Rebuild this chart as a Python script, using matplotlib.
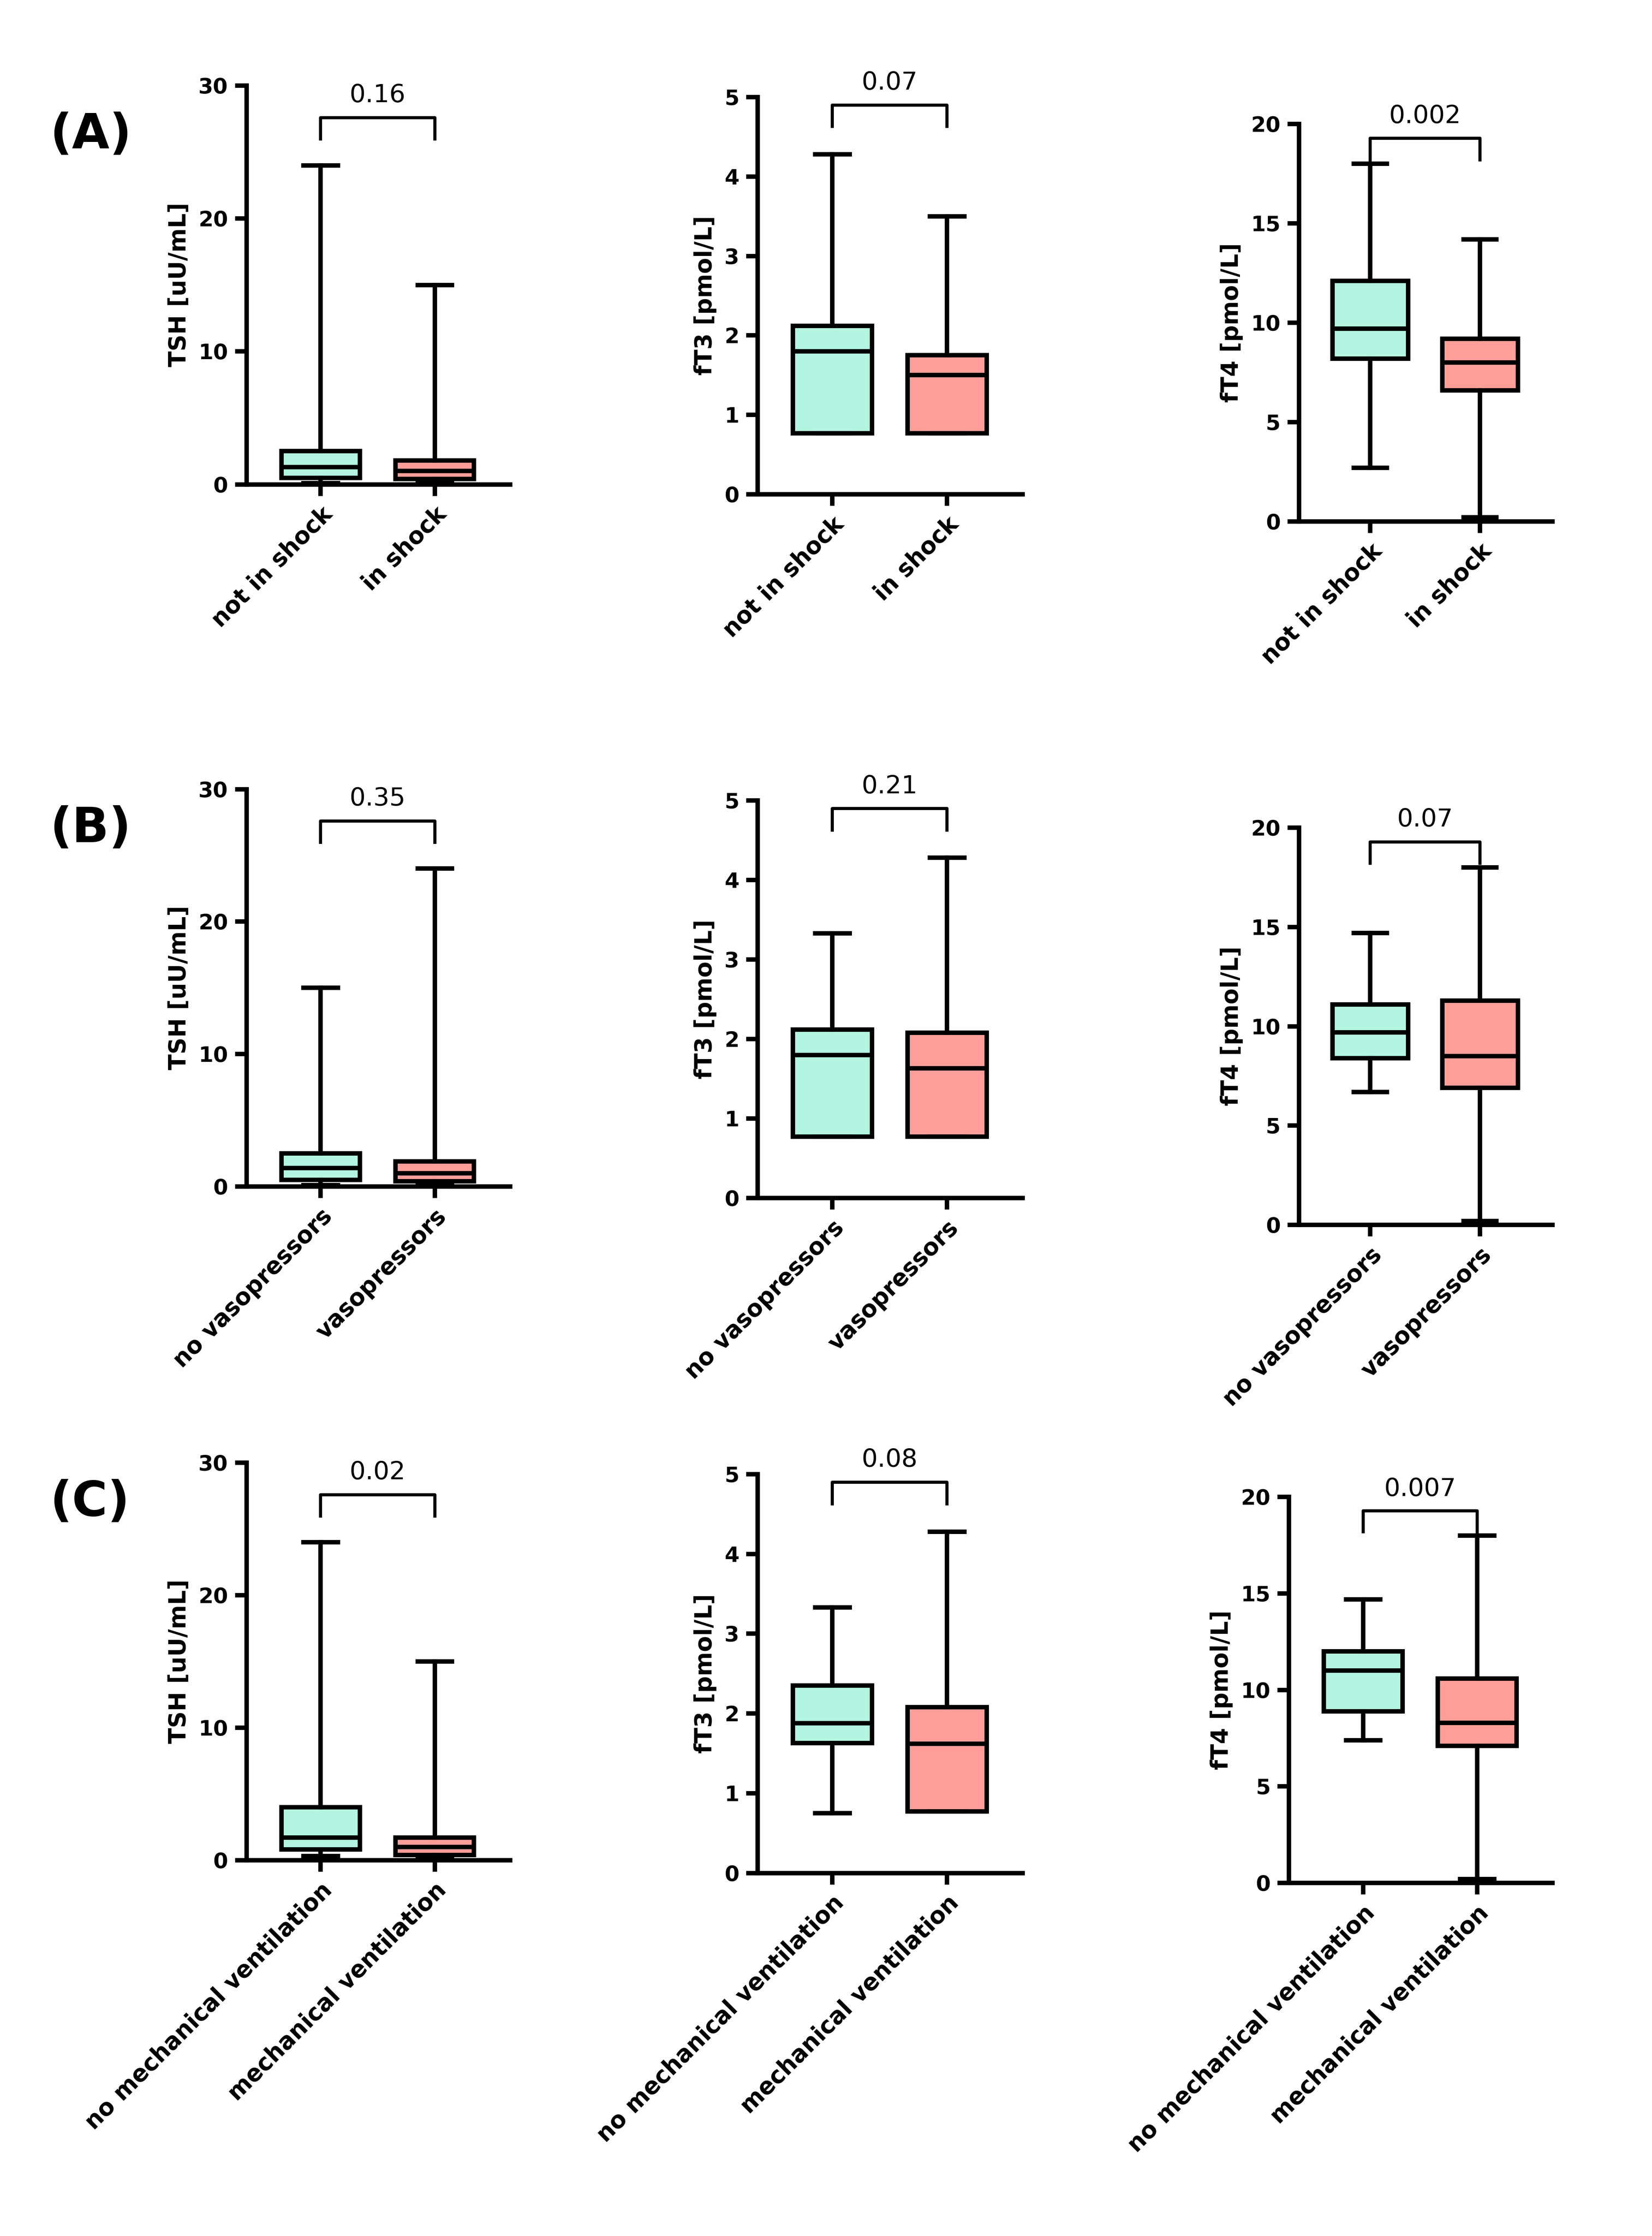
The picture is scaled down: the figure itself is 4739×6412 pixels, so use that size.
import matplotlib.pyplot as plt

W, H = 1160, 1570  # reference layout units

groups_a = ["not in shock", "in shock"]
groups_b = ["no vasopressors", "vasopressors"]
groups_c = ["no mechanical ventilation", "mechanical ventilation"]

# (whislo, q1, med, q3, whishi) for each group
tsh_a = [(0.1, 0.5, 1.3, 2.5, 24), (0.1, 0.4, 1.0, 1.8, 15)]
ft3_a = [(0.77, 0.77, 1.8, 2.12, 4.28), (0.77, 0.77, 1.5, 1.75, 3.5)]
ft4_a = [(2.7, 8.2, 9.7, 12.1, 18), (0.2, 6.6, 8.0, 9.2, 14.2)]
tsh_b = [(0.1, 0.5, 1.4, 2.5, 15), (0.1, 0.4, 1.0, 1.9, 24)]
ft3_b = [(0.77, 0.77, 1.8, 2.12, 3.33), (0.77, 0.77, 1.63, 2.08, 4.28)]
ft4_b = [(6.7, 8.4, 9.7, 11.1, 14.7), (0.2, 6.9, 8.5, 11.3, 18)]
tsh_c = [(0.3, 0.8, 1.7, 4.0, 24), (0.1, 0.4, 1.0, 1.7, 15)]
ft3_c = [(0.75, 1.63, 1.88, 2.35, 3.33), (0.77, 0.77, 1.62, 2.08, 4.28)]
ft4_c = [(7.4, 8.9, 11.0, 12.0, 14.7), (0.2, 7.1, 8.3, 10.6, 18)]

pvals = [["0.16", "0.07", "0.002"], ["0.35", "0.21", "0.07"], ["0.02", "0.08", "0.007"]]
colors = ["#B3F5E0", "#FF9E99"]

hormones = [
    ("TSH [uU/mL]", 30, [0, 10, 20, 30]),
    ("fT3 [pmol/L]", 5, [0, 1, 2, 3, 4, 5]),
    ("fT4 [pmol/L]", 20, [0, 5, 10, 15, 20]),
]
rows = [
    ("(A)", groups_a, [tsh_a, ft3_a, ft4_a]),
    ("(B)", groups_b, [tsh_b, ft3_b, ft4_b]),
    ("(C)", groups_c, [tsh_c, ft3_c, ft4_c]),
]
# axes boxes in reference pixels: (left, right, top, bottom)
boxes = [
    [(173, 358, 60, 340), (532, 718, 68, 347), (912, 1090, 87, 366)],
    [(173, 358, 554, 833), (532, 718, 562, 841), (912, 1090, 581, 860)],
    [(173, 358, 1027, 1306), (532, 718, 1035, 1315), (905, 1090, 1051, 1322)],
]
bracket_y = [0.92, 0.98, 0.964]
letter_y = [95, 582, 1055]

LW = 2.3
fig = plt.figure(figsize=(4739 / 400, 6412 / 400), dpi=400)

for r, (letter, groups, data) in enumerate(rows):
    fig.text(35 / W, 1 - letter_y[r] / H, letter, fontsize=25, fontweight="bold",
             va="center", ha="left")
    for c, (label, ymax, ticks) in enumerate(hormones):
        l, rt, t, b = boxes[r][c]
        ax = fig.add_axes([l / W, 1 - b / H, (rt - l) / W, (b - t) / H])
        stats = []
        for g, (lo, q1, med, q3, hi) in zip(groups, data[c]):
            stats.append(dict(whislo=lo, q1=q1, med=med, q3=q3, whishi=hi, label=g, fliers=[]))
        bp = ax.bxp(stats, positions=[1, 2], widths=0.69, patch_artist=True, showfliers=False,
                    boxprops=dict(linewidth=LW, edgecolor="black"),
                    whiskerprops=dict(linewidth=LW), capprops=dict(linewidth=LW),
                    medianprops=dict(linewidth=LW, color="black"), capwidths=0.3)
        for patch, col in zip(bp["boxes"], colors):
            patch.set_facecolor(col)
        ax.set_xlim(0.35, 2.66)
        ax.set_ylim(0, ymax)
        ax.set_yticks(ticks)
        ax.set_ylabel(label, fontsize=12, fontweight="bold")
        ax.set_xticks([1, 2])
        ax.set_xticklabels(groups, rotation=45, ha="right", rotation_mode="anchor",
                           fontsize=12, fontweight="bold")
        for tl in ax.get_yticklabels():
            tl.set_fontweight("bold")
            tl.set_fontsize(11)
        for s in ["top", "right"]:
            ax.spines[s].set_visible(False)
        for s in ["left", "bottom"]:
            ax.spines[s].set_linewidth(LW)
        ax.tick_params(width=LW, length=6, direction="out")
        # significance bracket
        by = bracket_y[c]
        tr = ax.get_xaxis_transform()
        ax.plot([1, 1, 2, 2], [by - 0.054, by, by, by - 0.054], color="black",
                lw=1.6, transform=tr, clip_on=False)
        ax.text(1.5, by + 0.025, pvals[r][c], transform=tr, ha="center", va="bottom",
                fontsize=13)

fig.savefig("out.png", dpi=400)
